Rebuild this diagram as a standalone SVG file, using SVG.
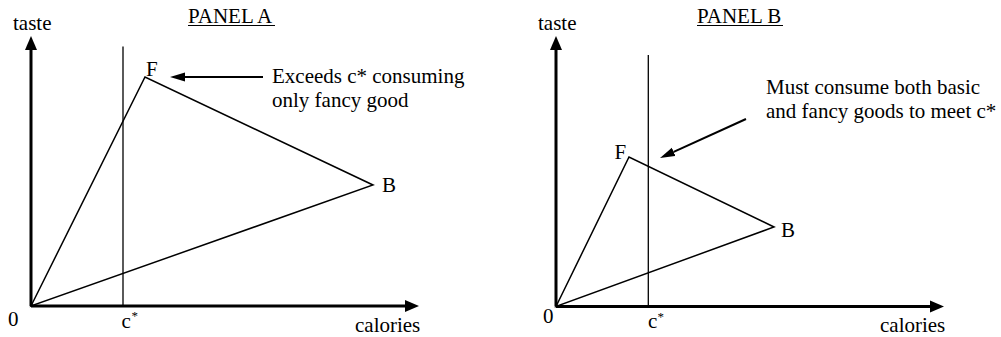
<svg xmlns="http://www.w3.org/2000/svg" width="1001" height="337" viewBox="0 0 1001 337">
<style>
text{font-family:"Liberation Serif","Times New Roman",serif;font-size:21px;fill:#000}
.sup{font-size:13px}
.axis{stroke:#000;stroke-width:3;fill:none}
.tri{stroke:#000;stroke-width:1.5;fill:none;stroke-linejoin:miter}
.cstar{stroke:#000;stroke-width:1.3}
.note{stroke:#000;stroke-width:2;fill:none}
.ul{stroke:#000;stroke-width:1}
</style>
<defs>
<marker id="axhead" markerUnits="userSpaceOnUse" markerWidth="15" markerHeight="13" refX="0" refY="6" orient="auto" viewBox="0 0 15 12"><path d="M0,0 L14,6 L0,12 z" fill="#000"/></marker>
<marker id="notehead" markerUnits="userSpaceOnUse" markerWidth="16" markerHeight="10" refX="0" refY="4.5" orient="auto" viewBox="0 0 16 9"><path d="M0,0 L15,4.5 L0,9 z" fill="#000"/></marker>
</defs>

<g id="panel-a">
  <text x="188" y="23">PANEL A</text>
  <line class="ul" x1="188" y1="25.5" x2="275" y2="25.5"/>
  <text x="13" y="30">taste</text>
  <g id="a-axes">
    <line class="axis" x1="31" y1="306" x2="31" y2="50" marker-end="url(#axhead)"/>
    <line class="axis" x1="31" y1="306" x2="405" y2="306" marker-end="url(#axhead)"/>
  </g>
  <line class="cstar" x1="123" y1="46.5" x2="123" y2="306"/>
  <polygon class="tri" points="31,306 145,77 373,185"/>
  <g id="a-node-F"><text x="146" y="76">F</text></g>
  <g id="a-node-B"><text x="382" y="191.5">B</text></g>
  <text x="8" y="326">0</text>
  <text x="121.5" y="327.5">c</text><text class="sup" x="131.5" y="320">*</text>
  <text x="355" y="332">calories</text>
  <g id="a-connectors">
    <line class="note" x1="263" y1="77" x2="185" y2="77" marker-end="url(#notehead)"/>
  </g>
  <text x="272" y="83">Exceeds c* consuming</text>
  <text x="272" y="107">only fancy good</text>
</g>

<g id="panel-b">
  <text x="697" y="23">PANEL B</text>
  <line class="ul" x1="697" y1="25.5" x2="783" y2="25.5"/>
  <text x="538" y="30">taste</text>
  <g id="b-axes">
    <line class="axis" x1="556" y1="306.5" x2="556" y2="50" marker-end="url(#axhead)"/>
    <line class="axis" x1="556" y1="306.5" x2="930" y2="306.5" marker-end="url(#axhead)"/>
  </g>
  <line class="cstar" x1="648.3" y1="55" x2="648.3" y2="306.5"/>
  <polygon class="tri" points="556,306.5 629,157 774,227"/>
  <g id="b-node-F"><text x="614.5" y="159">F</text></g>
  <g id="b-node-B"><text x="781" y="236.5">B</text></g>
  <text x="543" y="323">0</text>
  <text x="648" y="328">c</text><text class="sup" x="657.5" y="321">*</text>
  <text x="880" y="332">calories</text>
  <g id="b-connectors">
    <line class="note" x1="746" y1="119" x2="673.7" y2="151.8" marker-end="url(#notehead)"/>
  </g>
  <text x="766" y="93.5">Must consume both basic</text>
  <text x="766" y="117.5">and fancy goods to meet c*</text>
</g>
</svg>
